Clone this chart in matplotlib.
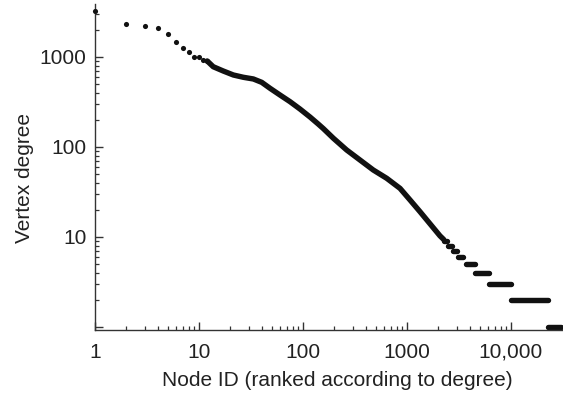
import numpy as np
import matplotlib
matplotlib.use('Agg')
import matplotlib.pyplot as plt
from matplotlib.ticker import FixedLocator, NullFormatter

plt.rcParams['font.family'] = ['Liberation Sans', 'DejaVu Sans']

# Titik-titik awal (peringkat teratas, terlihat terpisah)
top_rank = [1, 2, 3, 4, 5, 6, 7, 8, 9, 10, 11, 12]
top_degree = [3245, 2310, 2195, 2117, 1787, 1479, 1250, 1145, 1008, 1000, 926, 903]

# Bagian tengah kurva (titik-titik rapat, tampak seperti garis tebal)
curve_rank = [12, 13.7, 17.1, 21.4, 26.7, 33.3, 40.1, 48.2, 60.1, 75, 93.6, 117,
              140, 157, 196, 263, 353, 474, 638, 857, 1069, 1334, 2075, 2250]
curve_degree = [903, 780, 699, 631, 595, 570, 523, 449, 378, 319, 264, 215,
                180, 160, 125, 92.6, 71.7, 55.5, 44.9, 34.7, 25.8, 19.1, 10.3, 9.4]

# Bagian ekor: derajat kecil, tiap derajat satu rentang peringkat
step_degree = [9, 8, 7, 6, 5, 4, 3, 2, 1]
step_start = [2250, 2490, 2770, 3100, 3670, 4530, 6080, 9900, 22600]
step_end = [2450, 2710, 3030, 3450, 4530, 6080, 9950, 22600, 30500]

x_ticks = [1, 10, 100, 1000, 10000]
x_tick_labels = ['1', '10', '100', '1000', '10,000']
y_ticks = [1, 10, 100, 1000]
y_tick_labels = ['', '10', '100', '1000']

ink = '#111111'
lw = 3.9
fs = 15

fig = plt.figure(figsize=(5.63, 3.96), dpi=100)
ax = fig.add_axes([95 / 563, 66 / 396, 468 / 563, 326 / 396])

ax.plot(top_rank, top_degree, 'o', color=ink, markersize=3.7, markeredgewidth=0,
        clip_on=False, zorder=5)
ax.plot(curve_rank, curve_degree, '-', color=ink, lw=lw, solid_capstyle='round',
        solid_joinstyle='round')
for d, s, e in zip(step_degree, step_start, step_end):
    ax.plot([s, e], [d, d], '-', color=ink, lw=lw, solid_capstyle='round', clip_on=False)

ax.set_xscale('log')
ax.set_yscale('log')
ax.set_xlim(1, 10 ** 4.5)
ax.set_ylim(10 ** (-3 / 90), 10 ** (323 / 90))

ax.set_xticks(x_ticks, x_tick_labels)
ax.set_yticks(y_ticks, y_tick_labels)
minor = [k * 10 ** e for e in range(0, 4) for k in range(2, 10)]
ax.xaxis.set_minor_locator(FixedLocator(minor))
ax.yaxis.set_minor_locator(FixedLocator(minor))
ax.xaxis.set_minor_formatter(NullFormatter())
ax.yaxis.set_minor_formatter(NullFormatter())

for side in ['top', 'right']:
    ax.spines[side].set_visible(False)
for side in ['left', 'bottom']:
    ax.spines[side].set_color('#333333')
    ax.spines[side].set_linewidth(1.0)

ax.tick_params(which='major', direction='in', length=6, width=1.0, color='#333333',
               labelsize=fs, labelcolor='#222222')
ax.tick_params(axis='x', which='major', pad=9)
ax.tick_params(axis='y', which='major', pad=6)
ax.tick_params(which='minor', direction='in', length=3, width=0.9, color='#333333')

ax.set_xlabel('Node ID (ranked according to degree)', fontsize=fs, color='#222222')
ax.set_ylabel('Vertex degree', fontsize=fs, color='#222222')
ax.xaxis.set_label_coords(0.517, -0.125)
ax.yaxis.set_label_coords(-0.13, 0.466)

fig.savefig('out.png', dpi=100)
